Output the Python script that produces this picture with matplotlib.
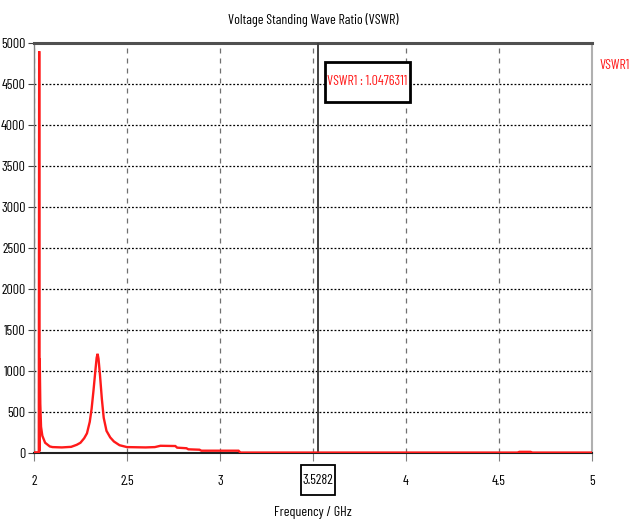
import matplotlib
matplotlib.use("Agg")
import matplotlib.pyplot as plt
from matplotlib.patches import Rectangle
from matplotlib.transforms import blended_transform_factory

# VSWR1 trace (GHz, ratio)
freq = [2.000, 2.026, 2.028, 2.030, 2.031, 2.034, 2.038, 2.045, 2.060, 2.085,
        2.100, 2.150, 2.200, 2.230, 2.250, 2.270, 2.285, 2.300, 2.310, 2.320,
        2.330, 2.337, 2.342, 2.347, 2.355, 2.365, 2.375, 2.390, 2.410, 2.430,
        2.460, 2.500, 2.600, 2.650, 2.680, 2.760, 2.770, 2.820, 2.830, 2.890,
        2.900, 3.100, 3.110, 4.600, 4.610, 4.670, 4.680, 5.000]
vswr = [8, 8, 4900, 20, 1150, 600, 320, 210, 125, 80,
        72, 68, 75, 100, 125, 180, 240, 380, 540, 760,
        1000, 1160, 1210, 1150, 950, 660, 430, 270, 190, 140,
        95, 72, 68, 72, 88, 85, 65, 58, 45, 40,
        28, 28, 5, 5, 14, 14, 5, 5]

marker_freq = 3.5282
marker_value = 1.0476311
xticks = [2, 2.5, 3, 3.5, 4, 4.5, 5]
xtick_labels = ["2", "2.5", "3", "", "4", "4.5", "5"]
yticks = list(range(0, 5001, 500))

plt.rcParams["font.family"] = ["Barlow Condensed", "DejaVu Sans"]

fig = plt.figure(figsize=(6.29, 5.24), dpi=100)
ax = fig.add_axes([0.054, 0.1355, 0.887, 0.7825])

ax.plot(freq, vswr, color="#ff1a1a", lw=1.7, zorder=4, solid_joinstyle="miter")
ax.axvline(marker_freq, color="#404040", lw=1.4, zorder=3)

ax.set_xlim(2, 5)
ax.set_ylim(0, 5000)
ax.set_xticks(xticks)
ax.set_xticklabels(xtick_labels)
ax.set_yticks(yticks)

ax.grid(axis="y", color="black", ls=(0, (1.5, 1.5)), lw=0.9)
ax.grid(axis="x", color="#707070", ls=(0, (4, 4)), lw=0.9)

ax.tick_params(axis="x", length=6, pad=10, labelsize=10, color="#808080")
ax.tick_params(axis="y", length=4, pad=2, labelsize=10, color="#404040")

ax.spines["top"].set_color("#505050")
ax.spines["top"].set_linewidth(2.2)
ax.spines["right"].set_color("#b0b0b0")
ax.spines["right"].set_linewidth(1.5)
ax.spines["left"].set_color("#808080")
ax.spines["left"].set_linewidth(1.0)
ax.spines["bottom"].set_color("#202020")
ax.spines["bottom"].set_linewidth(1.5)

# marker readout box
ax.add_patch(Rectangle((0.5215, 0.856), 0.1525, 0.098, transform=ax.transAxes,
                       facecolor="white", edgecolor="black", lw=2, zorder=5))
ax.text(0.5975, 0.905, f"VSWR1 : {marker_value:.7f}", transform=ax.transAxes,
        color="#ff1a1a", fontsize=10, ha="center", va="center", zorder=6)

# boxed marker frequency on the x axis
trans = blended_transform_factory(ax.transData, ax.transAxes)
ax.add_patch(Rectangle((marker_freq - 0.09, -0.102), 0.18, 0.073, transform=trans,
                       facecolor="white", edgecolor="black", lw=1.3, clip_on=False))
ax.text(marker_freq, -0.066, f"{marker_freq:.4f}", transform=trans,
        ha="center", va="center", fontsize=10)

ax.set_title("Voltage Standing Wave Ratio (VSWR)", fontsize=10, pad=14)
ax.set_xlabel("Frequency / GHz", fontsize=10, labelpad=13)
fig.text(0.953, 0.875, "VSWR1", color="#ff1a1a", fontsize=10, ha="left", va="center")

fig.savefig("out.png", dpi=100)
